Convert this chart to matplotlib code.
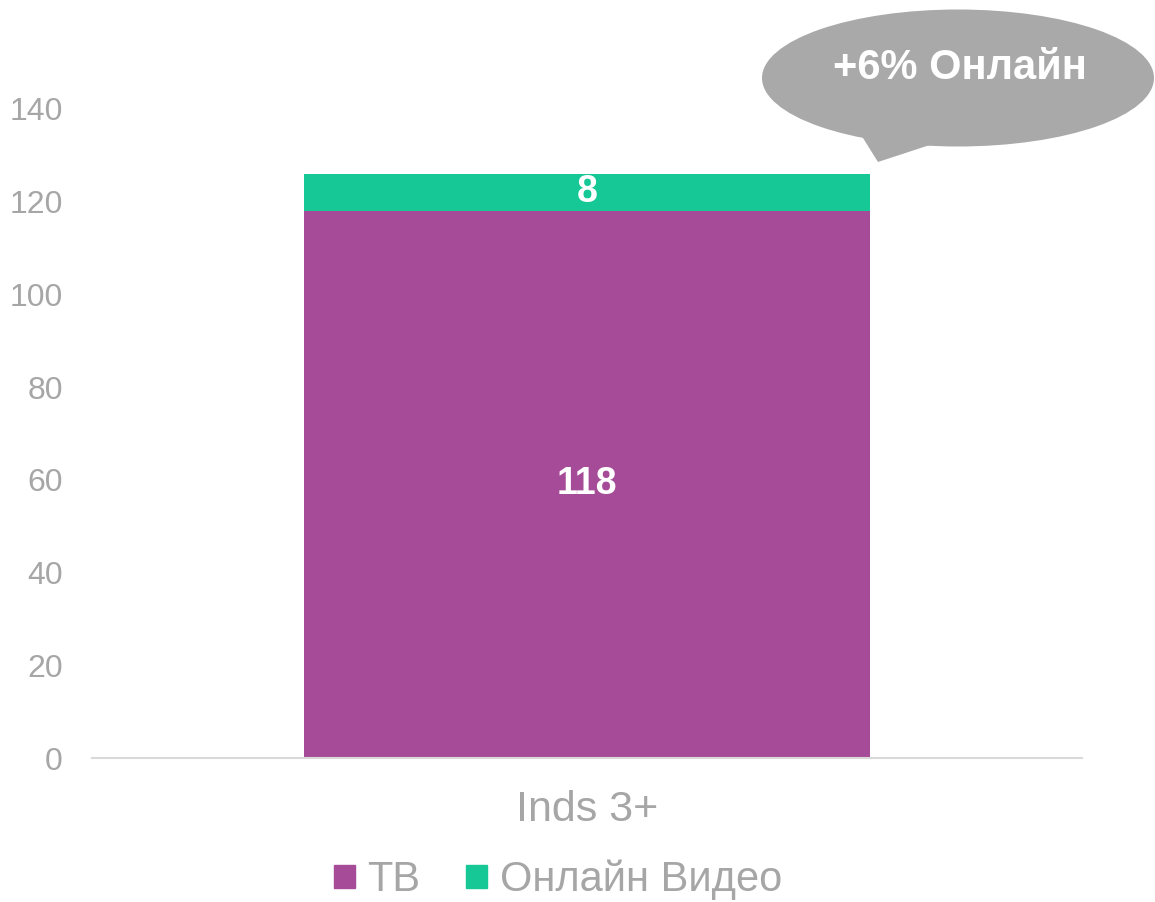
import matplotlib
matplotlib.use("Agg")
import matplotlib.pyplot as plt
from matplotlib.patches import Ellipse, Polygon, Patch

plt.rcParams["font.family"] = ["Liberation Sans", "DejaVu Sans"]

# data
categories = ["Inds 3+"]
tv = [118]
online = [8]
series_names = ["ТВ", "Онлайн Видео"]
callout_text = "+6% Онлайн"

purple = "#A64B97"
green = "#16C895"
gray = "#A6A6A6"

fig = plt.figure(figsize=(11.55, 9.02), dpi=100)
ax = fig.add_axes([92 / 1155, 1 - 758 / 902, 990 / 1155, (758 - 62.6) / 902])

x = range(len(categories))
b1 = ax.bar(x, tv, width=0.572, color=purple)
b2 = ax.bar(x, online, width=0.572, bottom=tv, color=green)

for rect, v in zip(b1, tv):
    ax.text(rect.get_x() + rect.get_width() / 2, v / 2, f"{v}",
            ha="center", va="center", color="white", fontsize=27, fontweight="bold")
for rect, v, b in zip(b2, online, tv):
    ax.text(rect.get_x() + rect.get_width() / 2, b + v / 2, f"{v}",
            ha="center", va="center", color="white", fontsize=27, fontweight="bold")

ax.set_xlim(-0.5, 0.5)
ax.set_ylim(0, 150)
ax.set_yticks(range(0, 141, 20))
ax.set_xticks(list(x))
ax.set_xticklabels(categories)
ax.tick_params(axis="y", length=0, pad=21, labelsize=23, labelcolor=gray)
ax.tick_params(axis="x", length=0, pad=23, labelsize=31, labelcolor=gray)
for s in ["top", "right", "left"]:
    ax.spines[s].set_visible(False)
ax.spines["bottom"].set_color("#D9D9D9")
ax.spines["bottom"].set_linewidth(1.5)

# callout bubble
tf = fig.transFigure
ell = Ellipse((958 / 1155, 1 - 78 / 902), 392 / 1155, 137 / 902,
              transform=tf, facecolor="#A9A9A9", edgecolor="none", zorder=5)
fig.patches.append(ell)
tail = Polygon([(858 / 1155, 1 - 130 / 902), (878 / 1155, 1 - 162 / 902),
                (945 / 1155, 1 - 140 / 902)],
               closed=True, transform=tf, facecolor="#A9A9A9", edgecolor="none", zorder=5)
fig.patches.append(tail)
fig.text(960 / 1155, 1 - 68 / 902, callout_text, ha="center", va="center",
         color="white", fontsize=30, fontweight="bold", zorder=6)

handles = [Patch(color=purple), Patch(color=green)]
fig.legend(handles, series_names, loc="center", bbox_to_anchor=(558 / 1155, 1 - 880 / 902),
           ncol=2, frameon=False, fontsize=30, labelcolor=gray,
           handlelength=0.5, handleheight=0.5, handletextpad=0.3, columnspacing=1.1)

fig.savefig("out.png", dpi=100)
